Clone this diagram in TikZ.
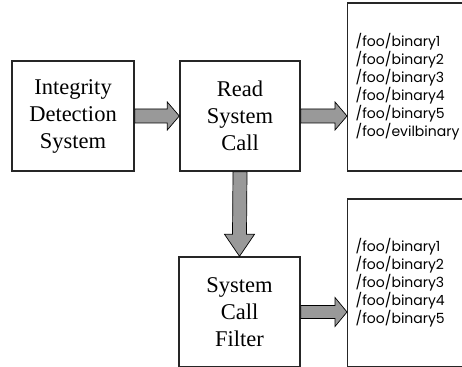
\documentclass[tikz,border=0pt]{standalone}
\usepackage{fontspec}
\setmainfont{Liberation Serif}
\newfontfamily\listfont{Poppins}
\usetikzlibrary{calc}
\tikzset{
  box/.style={draw=black!85, line width=1.4pt, align=center, inner sep=0pt,
    font=\fontsize{22.5}{27}\selectfont},
  listbox/.style={draw=black!85, line width=1.4pt, align=left, anchor=west,
    inner sep=8pt, text width=120pt, minimum width=136pt,
    font=\listfont\fontsize{14}{18}\selectfont},
  barrow/.style={draw=black, line width=0.7pt, fill=black!40, line join=miter}
}
\begin{document}
\begin{tikzpicture}[x=1pt,y=1pt]
\useasboundingbox (0,0) rectangle (462,366);
\clip (0,0) rectangle (462,366);
\node[box, minimum width=122pt, minimum height=110pt] (ids) at (73,250) {Integrity\\Detection\\System};
\node[box, minimum width=120pt, minimum height=110pt] (rsc) at (240,250) {Read\\System\\Call};
\node[box, minimum width=121pt, minimum height=110pt] (scf) at (239.5,54) {System\\Call\\Filter};
\node[listbox, minimum height=168pt] (l1) at (347,279) {/foo/binary1\\/foo/binary2\\/foo/binary3\\/foo/binary4\\/foo/binary5\\/foo/evilbinary};
\node[listbox, minimum height=168pt] (l2) at (347,83) {/foo/binary1\\/foo/binary2\\/foo/binary3\\/foo/binary4\\/foo/binary5};
% ids -> rsc
\draw[barrow] ($(ids.east)+(0,7)$) -- ($(rsc.west)+(-12,7)$) -- ($(rsc.west)+(-12,14)$) -- (rsc.west)
  -- ($(rsc.west)+(-12,-14)$) -- ($(rsc.west)+(-12,-7)$) -- ($(ids.east)+(0,-7)$) -- cycle;
% rsc -> l1
\coordinate (t1) at (rsc.east -| l1.west);
\draw[barrow] ($(rsc.east)+(0,7)$) -- ($(t1)+(-12,7)$) -- ($(t1)+(-12,14)$) -- (t1)
  -- ($(t1)+(-12,-14)$) -- ($(t1)+(-12,-7)$) -- ($(rsc.east)+(0,-7)$) -- cycle;
% rsc -> scf
\draw[barrow] ($(rsc.south)+(-7,0)$) -- ($(scf.north)+(-7,22)$) -- ($(scf.north)+(-15,22)$) -- (scf.north)
  -- ($(scf.north)+(15,22)$) -- ($(scf.north)+(7,22)$) -- ($(rsc.south)+(7,0)$) -- cycle;
% scf -> l2
\coordinate (t2) at (scf.east -| l2.west);
\draw[barrow] ($(scf.east)+(0,6.5)$) -- ($(t2)+(-12,6.5)$) -- ($(t2)+(-12,14.5)$) -- (t2)
  -- ($(t2)+(-12,-14.5)$) -- ($(t2)+(-12,-6.5)$) -- ($(scf.east)+(0,-6.5)$) -- cycle;
\end{tikzpicture}
\end{document}
